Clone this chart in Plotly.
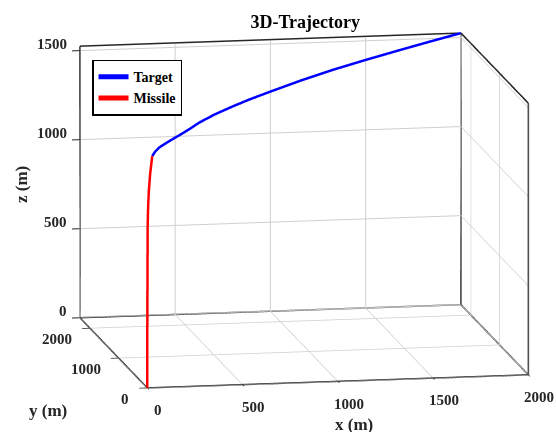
import plotly.graph_objects as go

# Missile flight path (m): climbs almost straight up from the launch point
missile_x = [0, 0, 1, 2, 4, 8, 15, 26]
missile_y = [0, 0, 0, 0, 0, 0, 0, 0]
missile_z = [0, 300, 600, 900, 1000, 1100, 1200, 1300]

# Target flight path (m), listed from the intercept point back to its start
target_x = [26, 45, 71, 103, 135, 200, 264, 328, 425, 540, 650, 778, 971, 1184, 1389, 1614, 1807, 2000]
target_y = [0, 23, 54, 92, 130, 207, 283, 360, 475, 612, 743, 895, 1125, 1379, 1623, 1890, 2120, 2350]
target_z = [1300, 1322, 1338, 1349, 1359, 1377, 1396, 1418, 1440, 1458, 1472, 1484, 1500, 1512, 1518, 1522, 1524, 1525]

# Axis limits and ticks
x_range = [0, 2000]
y_range = [0, 2350]
z_range = [0, 1525]
x_ticks = [0, 500, 1000, 1500, 2000]
y_ticks = [0, 1000, 2000]
z_ticks = [0, 500, 1000, 1500]

FONT = "Liberation Serif"
EDGE = "#262626"

# Edges of the three back planes of the axes box (y = max, z = min, x = max)
x0, x1 = x_range
y0, y1 = y_range
z0, z1 = z_range
edges = [
    ((x0, y1, z0), (x1, y1, z0)), ((x0, y1, z1), (x1, y1, z1)),
    ((x0, y1, z0), (x0, y1, z1)), ((x1, y1, z0), (x1, y1, z1)),
    ((x0, y0, z0), (x1, y0, z0)), ((x0, y0, z0), (x0, y1, z0)),
    ((x1, y0, z0), (x1, y1, z0)), ((x1, y0, z1), (x1, y1, z1)),
    ((x1, y0, z0), (x1, y0, z1)),
]
ex, ey, ez = [], [], []
for a, b in edges:
    ex += [a[0], b[0], None]
    ey += [a[1], b[1], None]
    ez += [a[2], b[2], None]

fig = go.Figure()
fig.add_trace(go.Scatter3d(x=ex, y=ey, z=ez, mode="lines",
                           line=dict(color=EDGE, width=3),
                           showlegend=False, hoverinfo="skip"))
fig.add_trace(go.Scatter3d(x=target_x, y=target_y, z=target_z, mode="lines",
                           name="Target", line=dict(color="#0000FF", width=5)))
fig.add_trace(go.Scatter3d(x=missile_x, y=missile_y, z=missile_z, mode="lines",
                           name="Missile", line=dict(color="#FF0000", width=5)))


def axis(rng, ticks):
    return dict(range=rng, tickvals=ticks, showticklabels=False,
                title=dict(text=""), showbackground=False, showline=False,
                zeroline=False, showspikes=False,
                gridcolor="#cfcfcf", gridwidth=2,
                ticks="outside", ticklen=8, tickwidth=2, tickcolor=EDGE)


# Tick labels anchored to the box edges in data coordinates
tick_font = dict(family=FONT, size=15, color="#262626")
tick_labels = []
for v in x_ticks:
    tick_labels.append(dict(x=v, y=y0, z=z0, text=f"<b>{v}</b>", showarrow=False,
                            xanchor="center", yanchor="middle",
                            xshift=11, yshift=-22, font=tick_font))
for v in y_ticks:
    tick_labels.append(dict(x=x0, y=v, z=z0, text=f"<b>{v}</b>", showarrow=False,
                            xanchor="right", yanchor="middle",
                            xshift=-16, yshift=-11, font=tick_font))
for v in z_ticks:
    tick_labels.append(dict(x=x0, y=y1, z=v, text=f"<b>{v}</b>", showarrow=False,
                            xanchor="right", yanchor="middle",
                            xshift=-11, yshift=7, font=tick_font))

title_font = dict(family=FONT, size=17, color="#262626")
fig.update_layout(
    width=556, height=432,
    margin=dict(l=0, r=0, t=0, b=0),
    paper_bgcolor="white",
    title=dict(text="<b>3D-Trajectory</b>", x=0.549, y=0.949, xanchor="center",
               yanchor="middle", font=dict(family=FONT, size=18, color="black")),
    scene=dict(
        domain=dict(x=[0.0, 1.0], y=[0.025, 1.0]),
        xaxis=axis(x_range, x_ticks),
        yaxis=axis(y_range, y_ticks),
        zaxis=axis(z_range, z_ticks),
        aspectmode="manual",
        aspectratio=dict(x=1.84, y=1.792, z=1.314),
        camera=dict(projection=dict(type="orthographic"),
                    eye=dict(x=-0.473, y=-1.910, z=0.378),
                    up=dict(x=0, y=0, z=1),
                    center=dict(x=-0.122, y=0.022, z=0)),
        annotations=tick_labels,
    ),
    legend=dict(x=0.1655, y=0.862, xanchor="left", yanchor="top",
                bgcolor="white", bordercolor="black", borderwidth=1.5,
                font=dict(family=FONT, size=14, color="black", weight="bold"),
                tracegroupgap=0, itemwidth=30),
    hovermode=False,
    annotations=[
        dict(text="<b>x (m)</b>", x=354 / 556, y=1 - 424 / 432, xref="paper", yref="paper",
             xanchor="center", yanchor="middle", showarrow=False, font=title_font),
        dict(text="<b>y (m)</b>", x=48 / 556, y=1 - 410 / 432, xref="paper", yref="paper",
             xanchor="center", yanchor="middle", showarrow=False, font=title_font),
        dict(text="<b>z (m)</b>", x=22 / 556, y=1 - 185 / 432, xref="paper", yref="paper",
             xanchor="center", yanchor="middle", showarrow=False, textangle=-90,
             font=title_font),
    ],
)

fig.write_html("out.html")
